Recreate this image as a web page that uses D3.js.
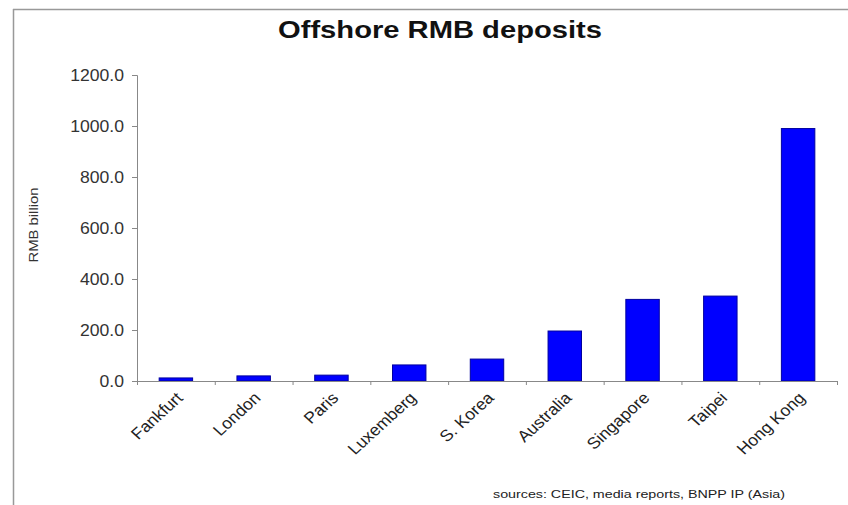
<!DOCTYPE html>
<html>
<head>
<meta charset="utf-8">
<script src="https://cdnjs.cloudflare.com/ajax/libs/d3/7.8.5/d3.min.js"></script>
<style>
  body { margin: 0; background: #fff; }
  text { font-family: "Liberation Sans", Arial, sans-serif; }
</style>
</head>
<body>
<script>
var categories = ['Fankfurt', 'London', 'Paris', 'Luxemberg', 'S. Korea', 'Australia', 'Singapore', 'Taipei', 'Hong Kong'];
var deposits = [12, 20, 23, 63, 86, 196, 320, 333, 990];
var yTicks = [0, 200, 400, 600, 800, 1000, 1200];

var w = 848;
var h = 505;
var plotLeft = 137, plotRight = 837, plotTop = 75, plotBottom = 381;

var svg = d3.select('body')
  .append('svg')
  .attr('width', w)
  .attr('height', h);

// frame lines (top and left)
svg.append('line')
  .attr('x1', 13).attr('x2', w).attr('y1', 9.5).attr('y2', 9.5)
  .attr('stroke', '#999').attr('stroke-width', 1.5);
svg.append('line')
  .attr('x1', 13.5).attr('x2', 13.5).attr('y1', 9).attr('y2', h)
  .attr('stroke', '#999').attr('stroke-width', 1.5);

var xScale = d3.scaleBand()
  .domain(categories)
  .range([plotLeft, plotRight])
  .paddingInner(0.57)
  .paddingOuter(0.285);

var xBounds = d3.scaleLinear()
  .domain([0, categories.length])
  .range([plotLeft, plotRight]);

var yScale = d3.scaleLinear()
  .domain([0, 1200])
  .range([plotBottom, plotTop]);

svg.append('text')
  .attr('x', 278)
  .attr('y', 38)
  .attr('font-size', '23px')
  .attr('font-weight', 'bold')
  .attr('fill', '#111')
  .attr('textLength', 324)
  .attr('lengthAdjust', 'spacingAndGlyphs')
  .text('Offshore RMB deposits');

svg.selectAll('rect.bar')
  .data(deposits)
  .enter()
  .append('rect')
  .attr('class', 'bar')
  .attr('x', function(d, i) { return xScale(categories[i]); })
  .attr('y', function(d) { return yScale(d); })
  .attr('width', xScale.bandwidth())
  .attr('height', function(d) { return plotBottom - yScale(d); })
  .attr('fill', '#0000ff')
  .attr('stroke', '#0000a0')
  .attr('stroke-width', 1);

var yAxis = d3.axisLeft(yScale)
  .tickValues(yTicks)
  .tickSize(5)
  .tickFormat(d3.format('.1f'));

var gy = svg.append('g')
  .attr('transform', 'translate(' + plotLeft + ',0)')
  .call(yAxis);
gy.select('.domain').attr('stroke', '#888');
gy.selectAll('.tick line').attr('stroke', '#888');
gy.selectAll('.tick text')
  .attr('x', -13)
  .attr('font-size', '16px')
  .attr('fill', '#333')
  .attr('font-family', '"Liberation Sans", Arial, sans-serif')
  .attr('transform', 'translate(-13,0) scale(1.1,1) translate(13,0)');

// x axis: line plus ticks at category boundaries
var gx = svg.append('g')
  .attr('transform', 'translate(0,' + plotBottom + ')')
  .call(d3.axisBottom(xBounds).ticks(categories.length).tickSize(4).tickSizeOuter(0).tickFormat(''));
gx.select('.domain').attr('stroke', '#888');
gx.selectAll('.tick line').attr('stroke', '#888');

svg.selectAll('text.xlab')
  .data(categories)
  .enter()
  .append('text')
  .attr('class', 'xlab')
  .attr('text-anchor', 'end')
  .attr('font-size', '16px')
  .attr('fill', '#222')
  .attr('transform', function(d) {
    return 'translate(' + (xScale(d) + xScale.bandwidth() / 2 + 8) + ',' + (plotBottom + 18) + ') scale(1.1,1) rotate(-45)';
  })
  .text(function(d) { return d; });

svg.append('text')
  .attr('transform', 'translate(38,225) rotate(-90)')
  .attr('text-anchor', 'middle')
  .attr('font-size', '13px')
  .attr('fill', '#333')
  .attr('textLength', 75)
  .attr('lengthAdjust', 'spacingAndGlyphs')
  .text('RMB billion');

svg.append('text')
  .attr('x', 493)
  .attr('y', 498)
  .attr('font-size', '11px')
  .attr('fill', '#222')
  .attr('textLength', 292)
  .attr('lengthAdjust', 'spacingAndGlyphs')
  .text('sources: CEIC, media reports, BNPP IP (Asia)');
</script>
</body>
</html>
